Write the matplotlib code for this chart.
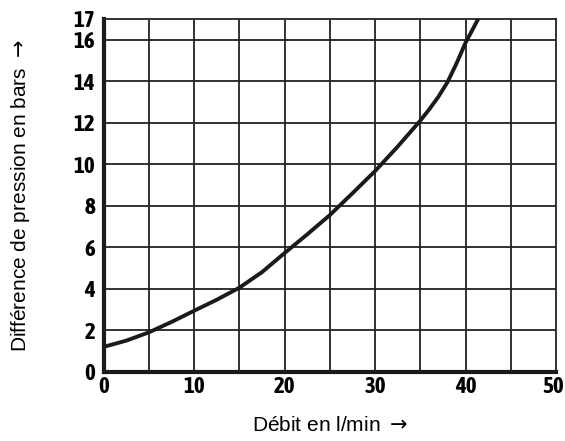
import matplotlib
matplotlib.use("Agg")
import matplotlib.pyplot as plt
from matplotlib.transforms import ScaledTranslation

# values
debit = [0, 2.5, 5, 7.5, 10, 12.5, 15, 17.5, 20, 22.5, 25, 27.5, 30, 32.5, 35, 36, 37, 38, 39, 40, 41.4]
pression = [1.2, 1.5, 1.9, 2.4, 2.94, 3.47, 4.05, 4.8, 5.72, 6.62, 7.55, 8.6, 9.67, 10.85, 12.1, 12.65, 13.25, 13.95, 14.85, 15.85, 17.0]

xticks = [0, 10, 20, 30, 40, 50]
yticks = [0, 2, 4, 6, 8, 10, 12, 14, 16, 17]
xgrid = [5, 10, 15, 20, 25, 30, 35, 40, 45]
ygrid = [2, 4, 6, 8, 10, 12, 14, 16]

tickfont = {"family": ["Asap Condensed", "DejaVu Sans"], "weight": "bold", "size": 16.5}

fig = plt.figure(figsize=(5.65, 4.41), dpi=100)
ax = fig.add_axes([0.1835, 0.157, 0.8005, 0.8])

for x in xgrid:
    ax.axvline(x, color="#222222", lw=1.3, zorder=1)
for y in ygrid:
    ax.axhline(y, color="#222222", lw=1.3, zorder=1)

ax.plot(debit, pression, color="#1a1a1a", lw=2.8, zorder=3)

ax.set_xlim(0, 50)
ax.set_ylim(0, 17)
ax.set_xticks(xticks)
ax.set_yticks(yticks)
ax.set_xticklabels([str(v) for v in xticks], fontdict=tickfont)
ax.set_yticklabels([str(v) for v in yticks], fontdict=tickfont)
ax.tick_params(axis="x", length=0, pad=3)
ax.tick_params(axis="y", length=0, pad=6)

# last x label sits a bit left so it stays inside the picture
last = ax.get_xticklabels()[-1]
last.set_transform(last.get_transform() + ScaledTranslation(-3 / 100, 0, fig.dpi_scale_trans))

for s in ["top", "right"]:
    ax.spines[s].set_linewidth(1.3)
    ax.spines[s].set_color("#222222")
for s in ["left", "bottom"]:
    ax.spines[s].set_linewidth(3)
    ax.spines[s].set_color("#1a1a1a")

ax.set_xlabel(r"Débit en l/min $\rightarrow$", fontsize=15, family="Liberation Sans")
ax.set_ylabel(r"Différence de pression en bars $\rightarrow$", fontsize=15, family="Liberation Sans")
ax.xaxis.set_label_coords(0.5, -0.151)
ax.xaxis.label.set_va("center")
ax.yaxis.set_label_coords(-0.185, 0.5)
ax.yaxis.label.set_va("center")

fig.savefig("out.png", dpi=100)
